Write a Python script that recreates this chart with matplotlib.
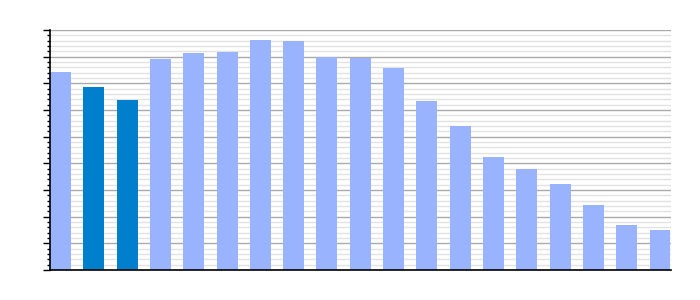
import matplotlib
matplotlib.use("Agg")
import matplotlib.pyplot as plt
from matplotlib.ticker import MultipleLocator, NullFormatter

# bar values (19 bars, no labels shown)
values = [74.1, 68.5, 63.9, 79.0, 81.2, 81.6, 86.4, 85.7, 79.9, 79.4,
          75.7, 63.5, 53.9, 42.2, 37.7, 32.3, 24.2, 16.8, 14.9]
highlight = [1, 2]

light = "#99b3ff"
dark = "#0080cc"
colors = [dark if i in highlight else light for i in range(len(values))]

fig = plt.figure(figsize=(7, 3), dpi=100)
ax = fig.add_axes([50 / 700, 0.1, 620.5 / 700, 0.8])

width = 0.63
ax.bar(range(len(values)), values, width=width, color=colors, zorder=3)

ax.set_xlim(-width / 2, len(values) - 1 + width / 2)
ax.set_ylim(0, 90)

ax.yaxis.set_major_locator(MultipleLocator(10))
ax.yaxis.set_minor_locator(MultipleLocator(2))
ax.yaxis.set_major_formatter(NullFormatter())
ax.grid(which="major", axis="y", color="#aaaaaa", linewidth=1, zorder=1)
ax.grid(which="minor", axis="y", color="#e2e2e2", linewidth=1, zorder=0)

ax.tick_params(axis="y", which="major", length=5, width=1, color="black", direction="out")
ax.tick_params(axis="y", which="minor", length=2.5, width=1, color="black", direction="out")
ax.tick_params(axis="x", length=0, labelbottom=False)

for s in ["top", "right"]:
    ax.spines[s].set_visible(False)
ax.spines["left"].set_color("black")
ax.spines["bottom"].set_color("black")
ax.spines["left"].set_linewidth(1.2)
ax.spines["bottom"].set_linewidth(1.2)
ax.spines["left"].set_zorder(4)
ax.spines["bottom"].set_zorder(4)

fig.savefig("out.png", dpi=100)
